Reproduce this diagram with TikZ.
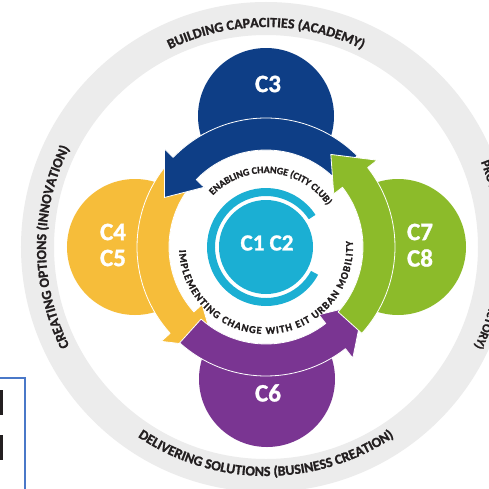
\documentclass[tikz,border=0pt]{standalone}
\usepackage{fontspec}
\setmainfont{Carlito}
\newfontfamily\heavy{Carlito Bold}[FakeBold=1.2]
\usetikzlibrary{decorations.text}
\definecolor{navy}{RGB}{14,62,134}
\definecolor{gold}{RGB}{246,189,58}
\definecolor{leaf}{RGB}{140,187,42}
\definecolor{plum}{RGB}{122,53,146}
\definecolor{aqua}{RGB}{27,175,211}
\definecolor{ringgray}{RGB}{236,236,236}
\definecolor{ink}{RGB}{35,31,32}
\definecolor{boxblue}{RGB}{74,120,200}
\newcommand\ringfont{\heavy\fontsize{14}{14}\selectfont}
\newcommand\ringfontr{\heavy\fontsize{12.5}{12.5}\selectfont}
\newcommand\innerfont{\heavy\fontsize{10}{10}\selectfont}
\newcommand\innerfontb{\heavy\fontsize{10.5}{10.5}\selectfont}
\newcommand\drawarrow[4]{%
  \filldraw[fill=#1, draw=white, line width=0.8pt, line join=round]
    (#2:129) arc[start angle=#2, end angle=#3, radius=129pt]
    -- (#3:141) -- (#4:113) -- (#3:86) -- (#3:97)
    arc[start angle=#3, end angle=#2, radius=97pt] -- cycle;}
\tikzset{
  bubble/.style={circle, inner sep=0pt, minimum size=136pt, draw=none},
  lbl/.style={text=white, font=\heavy\fontsize{25}{25}\selectfont, inner sep=0pt, align=center},
  ringtext/.style={font=\ringfont, decorate, decoration={text along path, text align=center, text color=ink, text={|\ringfont|#1}}},
}
\begin{document}
\begin{tikzpicture}[x=1pt,y=1pt]
\useasboundingbox (-266,-241) rectangle (223,247);
\clip (-266,-241) rectangle (223,247);
\fill[white] (-266,-241) rectangle (223,247);
% outer grey ring
\fill[ringgray, even odd rule] (0,0) circle[radius=245pt] (0,0) circle[radius=212pt];
% ring texts
\path[ringtext={BUILDING CAPACITIES (ACADEMY)}]
  (125:220) arc[start angle=125, end angle=55, radius=220pt];
\path[ringtext={CREATING OPTIONS (INNOVATION)}]
  (215:220) arc[start angle=215, end angle=145, radius=220pt];
\path[font=\ringfontr, decorate, decoration={text along path, text align=center, text color=ink,
  text={|\ringfontr|PROVIDING KNOWLEDGE (FACTORY)}}]
  (33:231) arc[start angle=33, end angle=-37, radius=231pt];
\path[ringtext={DELIVERING SOLUTIONS (BUSINESS CREATION)}]
  (220:229) arc[start angle=220, end angle=320, radius=229pt];
% coloured bubbles
\node[bubble, fill=navy] (c3) at (0,131) {};
\node[bubble, fill=gold] (c45) at (-131,0) {};
\node[bubble, fill=leaf] (c78) at (132,0) {};
\node[bubble, fill=plum] (c6) at (1,-132) {};
% white inner disk
\fill[white] (0,0) circle[radius=97pt];
% arrows
\drawarrow{navy}{45}{136}{154}
\drawarrow{gold}{142}{222}{243}
\drawarrow{plum}{228}{308}{330}
\drawarrow{leaf}{318}{398}{415}
\begin{scope}
  \clip (0,0) -- (118:175) arc[start angle=118, end angle=172, radius=175pt] -- cycle;
  \drawarrow{navy}{45}{136}{154}
\end{scope}
% inner texts
\path[font=\innerfont, decorate, decoration={text along path, text align=center, text color=ink,
  text={|\innerfont|ENABLING CHANGE (CITY CLUB)}}]
  (150:74) arc[start angle=150, end angle=20, radius=74pt];
\path[font=\innerfontb, decorate, decoration={text along path, text align=fit to path, text color=ink,
  text={|\innerfontb|IMPLEMENTING CHANGE WITH EIT URBAN MOBILITY}}]
  (182:87) arc[start angle=182, end angle=364, radius=87pt];
% central C ring and disk
\fill[aqua] (33:59) arc[start angle=33, end angle=332, radius=59pt]
  -- (332:51) arc[start angle=332, end angle=33, radius=51pt] -- cycle;
\node[circle, fill=aqua, inner sep=0pt, minimum size=94pt] (c12) at (0,0) {};
\node[lbl, font=\heavy\fontsize{23}{23}\selectfont] (c12t) at (1,4) {C1 C2};
% labels
\node[lbl] (c3t) at (2,163) {C3};
\node[lbl] (c6t) at (2,-146) {C6};
\node[lbl] (c4t) at (-153,15) {C4};
\node[lbl] (c5t) at (-153,-11) {C5};
\node[lbl] (c7t) at (154,15) {C7};
\node[lbl] (c8t) at (154,-11) {C8};
% cropped legend box at bottom left
\draw[boxblue, line width=1.2pt] (-270,-131) rectangle (-241,-248);
\fill[ink] (-266,-143) rectangle (-263,-168);
\fill[ink] (-266,-188) rectangle (-263,-213);
\end{tikzpicture}
\end{document}
